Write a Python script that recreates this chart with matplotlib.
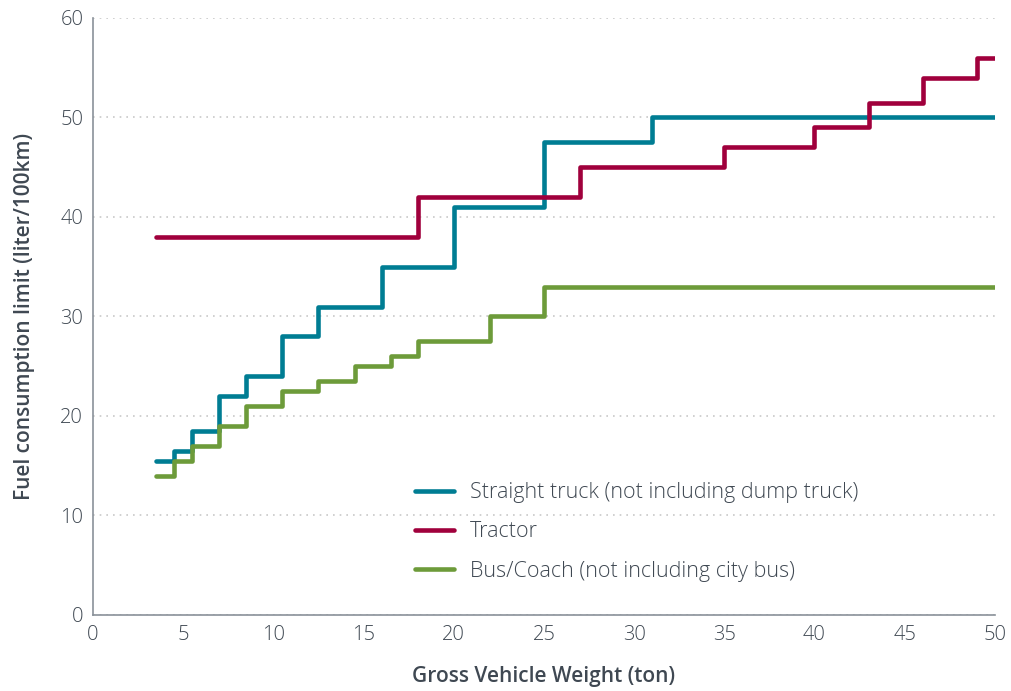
import matplotlib
matplotlib.use("Agg")
import matplotlib.pyplot as plt

plt.rcParams['font.family'] = ['Open Sans', 'DejaVu Sans']

truck_x = [3.5, 4.5, 5.5, 7, 8.5, 10.5, 12.5, 16, 20, 25, 31, 50]
truck_y = [15.5, 16.5, 18.5, 22, 24, 28, 31, 35, 41, 47.5, 50, 50]

tractor_x = [3.5, 18, 27, 35, 40, 43, 46, 49, 50]
tractor_y = [38, 42, 45, 47, 49, 51.5, 54, 56, 56]

bus_x = [3.5, 4.5, 5.5, 7, 8.5, 10.5, 12.5, 14.5, 16.5, 18, 22, 25, 50]
bus_y = [14, 15.5, 17, 19, 21, 22.5, 23.5, 25, 26, 27.5, 30, 33, 33]

labels = ["Straight truck (not including dump truck)", "Tractor", "Bus/Coach (not including city bus)"]
colors = ["#007D93", "#A0003C", "#6D9B3A"]
xticks = [0, 5, 10, 15, 20, 25, 30, 35, 40, 45, 50]
yticks = [0, 10, 20, 30, 40, 50, 60]

text_color = "#3F4852"

fig = plt.figure(figsize=(10.11, 6.91), dpi=100)
ax = fig.add_axes([0.092, 0.110, 0.892, 0.864])

for xs, ys, lab, c in zip([truck_x, tractor_x, bus_x], [truck_y, tractor_y, bus_y], labels, colors):
    ax.plot(xs, ys, drawstyle='steps-post', color=c, lw=3.3, label=lab,
            solid_capstyle='round', solid_joinstyle='round')

ax.set_xlim(0, 50)
ax.set_ylim(0, 60)
ax.set_xticks(xticks)
ax.set_yticks(yticks)
ax.tick_params(axis='both', length=0, labelsize=14.5, colors=text_color, pad=7)
for lab in ax.get_xticklabels() + ax.get_yticklabels():
    lab.set_fontweight('light')
for s in ['top', 'right']:
    ax.spines[s].set_visible(False)
for s in ['left', 'bottom']:
    ax.spines[s].set_color('#8A9199')
    ax.spines[s].set_linewidth(1.2)
ax.yaxis.grid(True, linestyle=(0, (1, 3)), color='#C8C8C8', lw=1.2)
ax.set_axisbelow(True)

ax.set_xlabel("Gross Vehicle Weight (ton)", fontsize=15, fontweight='semibold', color=text_color, labelpad=15)
ax.set_ylabel("Fuel consumption limit (liter/100km)", fontsize=15, fontweight='semibold', color=text_color, labelpad=18)

leg = ax.legend(loc='upper left', bbox_to_anchor=(0.336, 0.255), frameon=False,
                prop={'size': 15.5, 'weight': 'light'},
                handlelength=1.8, handletextpad=0.75, labelspacing=0.85, labelcolor=text_color)

fig.savefig("out.png", dpi=100)
